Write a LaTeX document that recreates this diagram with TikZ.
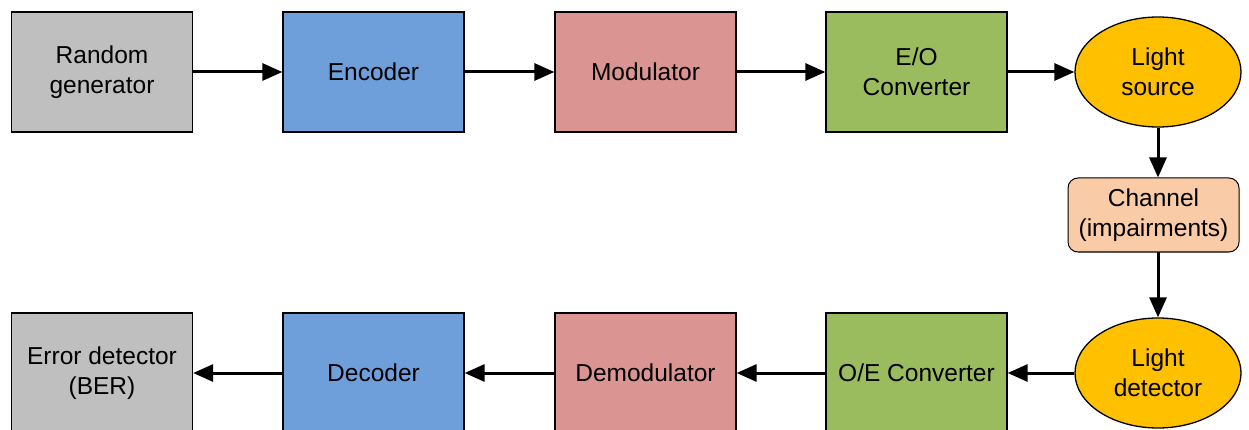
\documentclass[tikz,border=0pt]{standalone}
\usepackage{fontspec}
\setmainfont{Liberation Sans}
\usetikzlibrary{shapes.geometric,arrows.meta}
\definecolor{cgray}{HTML}{BFBFBF}
\definecolor{cblue}{HTML}{6F9FDB}
\definecolor{cred}{HTML}{DA9592}
\definecolor{cgreen}{HTML}{9BBB5F}
\definecolor{cgold}{HTML}{FFC000}
\definecolor{cpeach}{HTML}{F9CBA6}
\tikzset{
  blk/.style={draw=black, line width=1.3pt, minimum width=181pt, minimum height=120pt,
    inner sep=0pt, align=center, font=\fontsize{24.5}{30}\selectfont},
  oval/.style={ellipse, draw=black, line width=1.3pt, minimum width=166pt, minimum height=110pt,
    inner sep=0pt, align=center, font=\fontsize{24.5}{30}\selectfont, fill=cgold},
  chan/.style={draw=black, line width=1.0pt, rounded corners=10pt, minimum width=171pt,
    minimum height=74pt, inner sep=0pt, align=center, font=\fontsize{24.5}{30}\selectfont, fill=cpeach},
  flow/.style={line width=3pt, -{Triangle[length=20pt, width=17pt]}}
}
\begin{document}
\begin{tikzpicture}[x=1pt, y=-1pt]
  \useasboundingbox (0,0) rectangle (1249,430);
  % transmitter chain
  \node[blk, fill=cgray]  (rg)  at (102,72)  {Random\\generator};
  \node[blk, fill=cblue]  (enc) at (373.5,72) {Encoder};
  \node[blk, fill=cred]   (mod) at (645.5,72) {Modulator};
  \node[blk, fill=cgreen] (eo)  at (916.5,72) {E/O\\Converter};
  \node[oval] (ls) at (1158,72) {Light\\source};
  % channel
  \node[chan] (ch) at (1153.5,215) {Channel\\(impairments)};
  % receiver chain
  \node[oval] (ld) at (1158,373) {Light\\detector};
  \node[blk, fill=cgreen] (oe)  at (916.5,373) {O/E Converter};
  \node[blk, fill=cred]   (dem) at (645.5,373) {Demodulator};
  \node[blk, fill=cblue]  (dec) at (373.5,373) {Decoder};
  \node[blk, fill=cgray]  (err) at (102,373) {Error detector\\(BER)};
  % connectors
  \draw[flow] (rg) -- (enc);
  \draw[flow] (enc) -- (mod);
  \draw[flow] (mod) -- (eo);
  \draw[flow] (eo) -- (ls);
  \draw[flow] (ls.south) -- (ls.south |- ch.north);
  \draw[flow] (ls.south |- ch.south) -- (ld.north);
  \draw[flow] (ld) -- (oe);
  \draw[flow] (oe) -- (dem);
  \draw[flow] (dem) -- (dec);
  \draw[flow] (dec) -- (err);
\end{tikzpicture}
\end{document}
